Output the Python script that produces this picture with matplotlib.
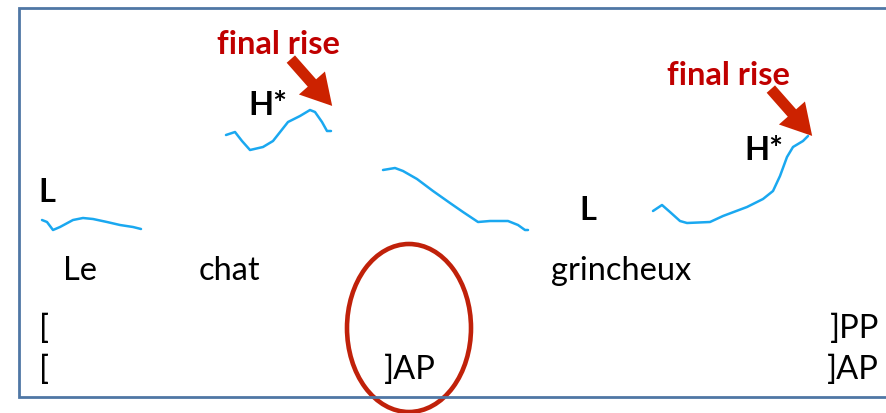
import matplotlib
matplotlib.use("Agg")
import matplotlib.pyplot as plt
from matplotlib.patches import Ellipse, FancyArrowPatch

plt.rcParams['font.family'] = ['Lato', 'DejaVu Sans']

# Pitch contours (pixel-space readings from the picture)
le_x = [42, 47, 53, 60, 73, 83, 93, 107, 120, 133, 141]
le_y = [221, 223, 231, 228, 221, 219, 220, 223, 226, 228, 230]
chat_x = [226, 235, 242, 250, 263, 273, 288, 300, 310, 315, 322, 327, 331]
chat_y = [136, 133, 142, 151, 148, 142, 123, 117, 111, 113, 123, 132, 132]
mid_x = [383, 395, 403, 417, 433, 450, 463, 478, 490, 508, 518, 525, 528]
mid_y = [171, 169, 172, 180, 192, 204, 213, 223, 222, 222, 226, 231, 231]
grin_x = [653, 662, 670, 680, 687, 710, 723, 747, 763, 773, 780, 787, 793, 803, 808]
grin_y = [212, 206, 213, 222, 224, 223, 217, 208, 200, 192, 177, 158, 148, 142, 137]
contours = [(le_x, le_y), (chat_x, chat_y), (mid_x, mid_y), (grin_x, grin_y)]

words = ["Le", "chat", "grincheux"]
word_x = [63, 199, 551]
tones = ["L", "H*", "L", "H*"]
tone_x = [38, 248, 579, 744]
tone_y = [202, 115, 220, 160]

BLUE = "#1AA8F0"
RED = "#C00000"
ARROW = "#CC2200"
BOX = "#4F77A5"

fig = plt.figure(figsize=(8.86, 4.14), dpi=100)
ax = fig.add_axes([0, 0, 1, 1])
ax.set_xlim(0, 886)
ax.set_ylim(414, 0)
ax.axis("off")

# frame (right side cut off)
ax.plot([905, 19, 19, 905], [9, 9, 398, 398], color=BOX, lw=2, solid_joinstyle="miter")

for xs, ys in contours:
    ax.plot(xs, ys, color=BLUE, lw=1.8, solid_capstyle="round")

fs = 23.5
for t, x, y in zip(tones, tone_x, tone_y):
    ax.text(x, y, t, fontsize=fs, fontweight="bold", va="baseline", ha="left", color="black")

for w, x in zip(words, word_x):
    ax.text(x, 280, w, fontsize=fs, va="baseline", ha="left")

ax.text(39, 338, "[", fontsize=fs, va="baseline")
ax.text(879, 338, "]PP", fontsize=fs, va="baseline", ha="right")
ax.text(39, 379, "[", fontsize=fs, va="baseline")
ax.text(384, 379, "]AP", fontsize=fs, va="baseline")
ax.text(879, 379, "]AP", fontsize=fs, va="baseline", ha="right")

# annotations
for (tx, ty), (a0, a1) in [((217, 54), ((289, 58), (334, 109))),
                           ((667, 85), ((769, 88), (814, 139)))]:
    ax.text(tx, ty, "final rise", fontsize=fs, fontweight="bold", color=RED, va="baseline")
    arr = FancyArrowPatch(a0, a1, arrowstyle="simple,tail_width=8,head_width=25,head_length=22",
                          color=ARROW, mutation_scale=1, lw=0)
    ax.add_patch(arr)

ax.add_patch(Ellipse((409, 329), 124, 168, fill=False, edgecolor="#C0210A", lw=3.3))

fig.savefig("out.png", dpi=100)
